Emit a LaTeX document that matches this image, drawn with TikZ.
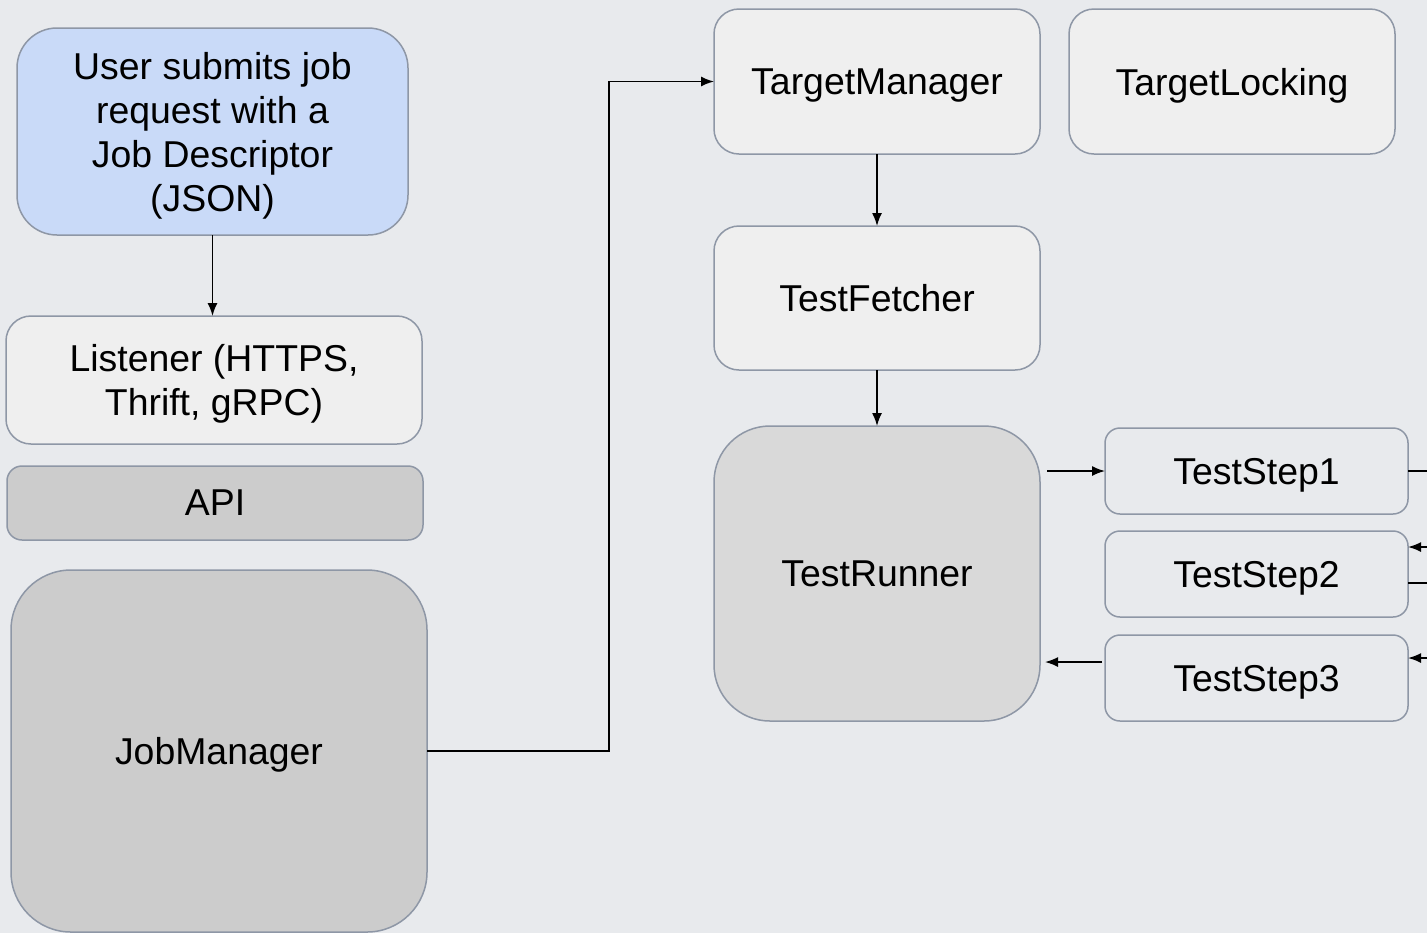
\documentclass[tikz,border=0pt]{standalone}
\usepackage{fontspec}
\setmainfont{Liberation Sans}
\usepackage{xcolor}
\usetikzlibrary{positioning}
\usetikzlibrary{arrows.meta}

\definecolor{bgcol}{HTML}{E8EAED}
\definecolor{edge}{HTML}{8E97A6}
\definecolor{userblue}{HTML}{C9DAF8}
\definecolor{lightbox}{HTML}{EFEFEF}
\definecolor{midbox}{HTML}{D9D9D9}
\definecolor{darkbox}{HTML}{CCCCCC}

\begin{document}
\begin{tikzpicture}
			\tikzstyle{box} = [draw=edge, line width=0.75pt, align=center, inner sep=0pt, outer sep=0pt, text depth=0pt, font=\fontsize{18.7}{22}\selectfont]
			\tikzstyle{wide} = [box, minimum width=208pt]
			\tikzstyle{comp} = [box, minimum width=163pt]
			\tikzstyle{stepbox} = [box, fill=bgcol, minimum width=151.5pt, minimum height=43pt, rounded corners=7.5pt]
			\tikzstyle{arrow} = [-{Latex[length=6.5pt,width=5pt]}, line width=0.8pt]
			\tikzstyle{line} = [draw, line width=0.8pt]
			
			\useasboundingbox (0,0) rectangle (713.5pt,-466.5pt);
			\fill [bgcol] (0,0) rectangle (713.5pt,-466.5pt);
			
			% left column
			\node [box, fill=userblue, minimum width=195.5pt, minimum height=103.5pt, rounded corners=20pt] (user) at (106.25pt,-65.75pt) {User submits job\\request with a\\Job Descriptor\\(JSON)};
			\node [wide, fill=lightbox, minimum height=64pt, rounded corners=12.5pt, below=40.5pt of user, xshift=0.75pt] (listener) {Listener (HTTPS,\\Thrift, gRPC)};
			\node [wide, fill=darkbox, minimum height=37pt, rounded corners=7.5pt, below=11pt of listener, xshift=0.5pt] (api) {API};
			\node [wide, fill=darkbox, minimum height=181pt, rounded corners=30pt, below=15pt of api, xshift=2pt] (jm) {JobManager};
			
			% right column
			\node [comp, fill=lightbox, minimum height=72.5pt, rounded corners=12.5pt] (tm) at (438.5pt,-40.75pt) {TargetManager};
			\node [comp, fill=lightbox, minimum height=72.5pt, rounded corners=12.5pt, right=14.5pt of tm] (tl) {TargetLocking};
			\node [comp, fill=lightbox, minimum height=72pt, rounded corners=12.5pt, below=36pt of tm] (tf) {TestFetcher};
			\node [comp, fill=midbox, minimum height=147.5pt, rounded corners=28pt, below=28pt of tf] (tr) {TestRunner};
			
			\node [stepbox] (ts1) at (628.25pt,-235.5pt) {TestStep1};
			\node [stepbox, below=8.5pt of ts1] (ts2) {TestStep2};
			\node [stepbox, below=9pt of ts2] (ts3) {TestStep3};
			
			\coordinate (hop) at (304.5pt,0);
			\coordinate (o1) at (713.5pt,-235.5pt);
			\coordinate (i2) at (713.5pt,-273.5pt);
			\coordinate (o2) at (713.5pt,-291.5pt);
			\coordinate (i3) at (713.5pt,-329pt);
			
			\draw [arrow] (user) -- (user.south |- listener.north);
			\draw [arrow] (jm.east) -- (jm.east -| hop) |- (tm.west);
			\draw [arrow] (tm) -- (tf);
			\draw [arrow] (tf) -- (tr);
			\draw [arrow, shorten <=3.5pt] (tr.east |- ts1.west) -- (ts1.west);
			\draw [arrow, shorten <=1.5pt, shorten >=2.5pt] ([yshift=8pt]ts3.west) -- ([yshift=8pt]ts3.west -| tr.east);
			
			\path [line] (ts1.east) -- (o1);
			\draw [arrow] (i2) -- (i2 -| ts2.east);
			\path [line] (o2 -| ts2.east) -- (o2);
			\draw [arrow] (i3) -- (i3 -| ts3.east);
\end{tikzpicture}
\end{document}
